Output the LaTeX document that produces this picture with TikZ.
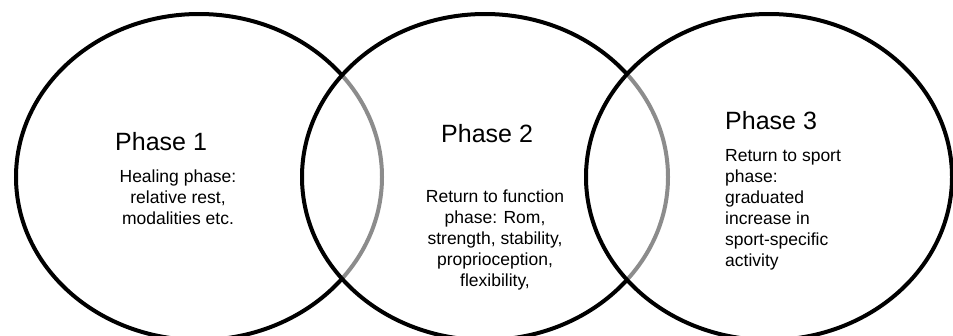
\documentclass[tikz,border=0pt]{standalone}
\usepackage{fontspec}
\setmainfont{Liberation Sans}
\usepackage{tikz}
\usetikzlibrary{positioning, shapes.geometric}
\definecolor{ringblack}{RGB}{0,0,0}
\tikzset{
  ring/.style={ellipse, draw=ringblack, line width=4pt, fill=white,
               fill opacity=0.55, minimum width=366pt, minimum height=326pt,
               inner sep=0pt},
  phasetitle/.style={inner sep=0pt, anchor=base west,
                     font=\fontsize{25}{29}\selectfont},
  phasetext/.style={inner sep=0pt, align=center,
                    font=\fontsize{17.5}{21}\selectfont},
}
\begin{document}
\begin{tikzpicture}[x=1pt, y=-1pt]
  \useasboundingbox (0,0) rectangle (953,335);
  \clip (0,0) rectangle (953,335);

  % the three overlapping phases
  \node[ring] (heal)  at (199,177) {};
  \node[ring] (func)  at (485,177) {};
  \node[ring] (sport) at (769,177) {};

  \node[phasetitle] (t1) at (115,150) {Phase 1};
  \node[phasetitle] (t2) at (441,142) {Phase 2};
  \node[phasetitle] (t3) at (725,129) {Phase 3};

  \node[phasetext, anchor=north] (b1) at (178,170)
    {Healing phase:\\relative rest,\\modalities etc.};
  \node[phasetext, anchor=north] (b2) at (495,190)
    {Return to function\\phase: Rom,\\strength, stability,\\proprioception,\\flexibility,};
  \node[phasetext, align=left, below=20pt of t3.south west, anchor=north west] (b3)
    {Return to sport\\phase:\\graduated\\increase in\\sport-specific\\activity};
\end{tikzpicture}
\end{document}
